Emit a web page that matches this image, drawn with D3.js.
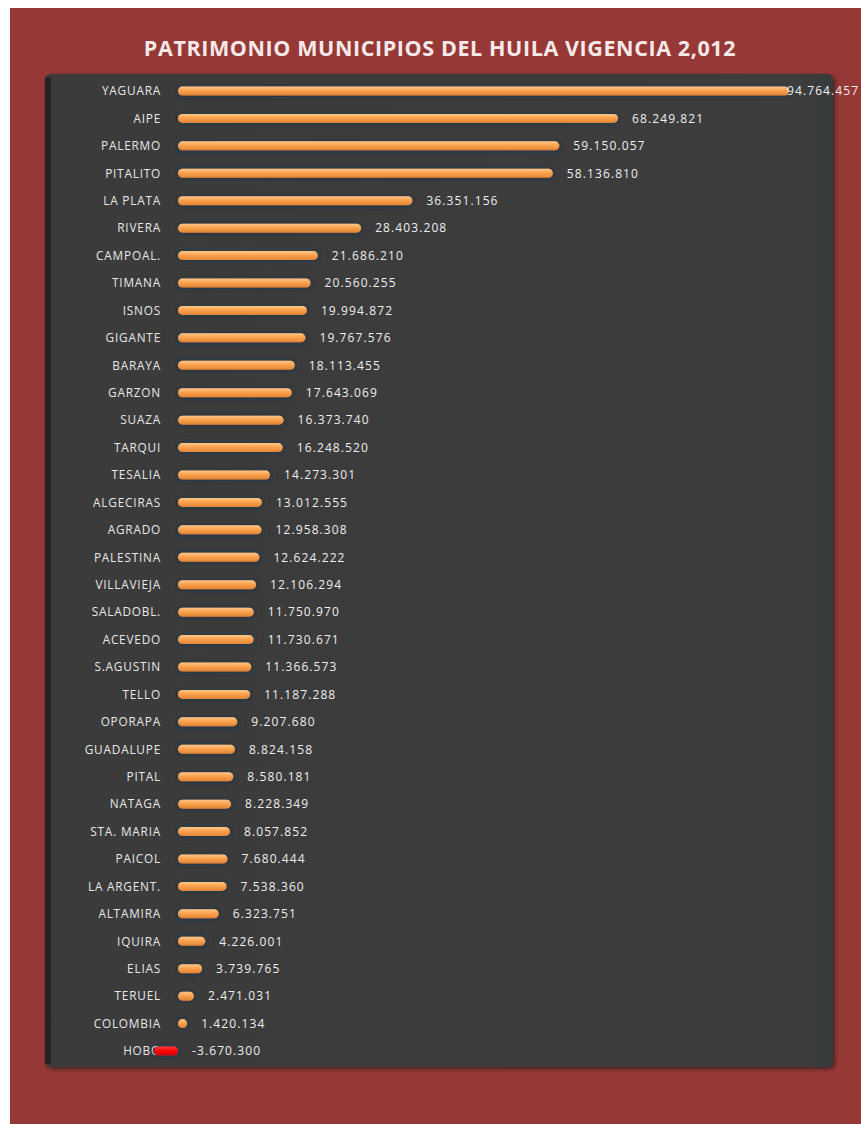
<!DOCTYPE html>
<html>
<head>
<meta charset="utf-8">
<script src="https://cdn.jsdelivr.net/npm/d3@7"></script>
<style>
  html, body { margin: 0; padding: 0; background: #ffffff; }
  svg { display: block; }
</style>
</head>
<body>
<script>
// Patrimonio por municipio, Huila, vigencia 2012
const municipios = [
  "YAGUARA", "AIPE", "PALERMO", "PITALITO", "LA PLATA", "RIVERA", "CAMPOAL.",
  "TIMANA", "ISNOS", "GIGANTE", "BARAYA", "GARZON", "SUAZA", "TARQUI",
  "TESALIA", "ALGECIRAS", "AGRADO", "PALESTINA", "VILLAVIEJA", "SALADOBL.",
  "ACEVEDO", "S.AGUSTIN", "TELLO", "OPORAPA", "GUADALUPE", "PITAL", "NATAGA",
  "STA. MARIA", "PAICOL", "LA ARGENT.", "ALTAMIRA", "IQUIRA", "ELIAS",
  "TERUEL", "COLOMBIA", "HOBO"
];
const patrimonio = [
  94764457, 68249821, 59150057, 58136810, 36351156, 28403208, 21686210,
  20560255, 19994872, 19767576, 18113455, 17643069, 16373740, 16248520,
  14273301, 13012555, 12958308, 12624222, 12106294, 11750970,
  11730671, 11366573, 11187288, 9207680, 8824158, 8580181, 8228349,
  8057852, 7680444, 7538360, 6323751, 4226001, 3739765,
  2471031, 1420134, -3670300
];
const titulo = "PATRIMONIO MUNICIPIOS DEL HUILA VIGENCIA 2,012";

const W = 861, H = 1124;
const data = municipios.map((m, i) => ({ name: m, value: patrimonio[i] }));

const locale = d3.formatLocale({ decimal: ",", thousands: ".", grouping: [3], currency: ["$", ""], minus: "-" });
const fmt = locale.format(",d");

const svg = d3.select("body").append("svg").attr("width", W).attr("height", H);
const defs = svg.append("defs");

// soft dark-blue halo around each bar
const glow = defs.append("filter").attr("id", "glow")
  .attr("x", "-20%").attr("y", "-100%").attr("width", "140%").attr("height", "300%");
glow.append("feDropShadow").attr("dx", 0).attr("dy", 0.5).attr("stdDeviation", 2)
  .attr("flood-color", "#17324f").attr("flood-opacity", 0.95);

const panelShadow = defs.append("filter").attr("id", "panelShadow")
  .attr("x", "-5%").attr("y", "-5%").attr("width", "110%").attr("height", "110%");
panelShadow.append("feDropShadow").attr("dx", 2).attr("dy", 2).attr("stdDeviation", 2)
  .attr("flood-color", "#1a1a1a").attr("flood-opacity", 0.7);

const orange = defs.append("linearGradient").attr("id", "orange")
  .attr("x1", 0).attr("y1", 0).attr("x2", 0).attr("y2", 1);
orange.append("stop").attr("offset", "0%").attr("stop-color", "#ffc888");
orange.append("stop").attr("offset", "45%").attr("stop-color", "#fba24f");
orange.append("stop").attr("offset", "100%").attr("stop-color", "#e08434");

const red = defs.append("linearGradient").attr("id", "red")
  .attr("x1", 0).attr("y1", 0).attr("x2", 0).attr("y2", 1);
red.append("stop").attr("offset", "0%").attr("stop-color", "#ff3b3b");
red.append("stop").attr("offset", "50%").attr("stop-color", "#ff0000");
red.append("stop").attr("offset", "100%").attr("stop-color", "#d00000");

const panelGrad = defs.append("linearGradient").attr("id", "panelGrad")
  .attr("x1", 0).attr("y1", 0).attr("x2", 1).attr("y2", 0);
panelGrad.append("stop").attr("offset", "0%").attr("stop-color", "#3b3b3b");
panelGrad.append("stop").attr("offset", "96%").attr("stop-color", "#3c3c3c");
panelGrad.append("stop").attr("offset", "100%").attr("stop-color", "#363a3b");

// maroon background
svg.append("rect").attr("x", 10).attr("y", 8).attr("width", W - 10).attr("height", H - 8)
  .attr("fill", "#963836");

// title
svg.append("text")
  .attr("x", 440).attr("y", 56)
  .attr("text-anchor", "middle")
  .attr("font-family", "'Open Sans', sans-serif")
  .attr("font-weight", 700)
  .attr("font-size", 21.5)
  .attr("letter-spacing", 0.6)
  .attr("fill", "#f7e9e9")
  .text(titulo);

// dark plot panel
const panel = { x: 45, y: 74, w: 788, h: 993 };
svg.append("rect")
  .attr("x", panel.x).attr("y", panel.y).attr("width", panel.w).attr("height", panel.h)
  .attr("rx", 6).attr("fill", "url(#panelGrad)").attr("filter", "url(#panelShadow)");
svg.append("rect")
  .attr("x", panel.x).attr("y", panel.y + 3).attr("width", 6).attr("height", panel.h - 6)
  .attr("fill", "#252525");

// scales
const x = d3.scaleLinear().domain([0, d3.max(patrimonio)]).range([178, 789]);
const y = d3.scalePoint().domain(municipios).range([91, 1051]);
const barH = 9;

// category labels
svg.append("g").selectAll("text").data(data).join("text")
  .attr("x", 161)
  .attr("y", d => y(d.name))
  .attr("dy", "0.36em")
  .attr("text-anchor", "end")
  .attr("font-family", "'Open Sans', sans-serif")
  .attr("font-size", 11.8)
  .attr("letter-spacing", 0.8)
  .attr("fill", "#e8e8e8")
  .text(d => d.name);

// bars
svg.append("g").selectAll("rect").data(data).join("rect")
  .attr("x", d => Math.min(x(0), x(d.value)))
  .attr("y", d => y(d.name) - barH / 2)
  .attr("width", d => Math.max(Math.abs(x(d.value) - x(0)), 5))
  .attr("height", barH)
  .attr("rx", barH / 2)
  .attr("fill", d => d.value < 0 ? "url(#red)" : "url(#orange)")
  .attr("filter", "url(#glow)");

// value labels
const plotRight = x.range()[1];
svg.append("g").selectAll("text").data(data).join("text")
  .attr("x", d => Math.min(Math.max(x(d.value), x(0)) + 14, plotRight - 2))
  .attr("y", d => y(d.name))
  .attr("dy", "0.36em")
  .attr("font-family", "'Open Sans', sans-serif")
  .attr("font-size", 12)
  .attr("letter-spacing", 1.1)
  .attr("fill", "#efefef")
  .text(d => fmt(d.value));
</script>
</body>
</html>
